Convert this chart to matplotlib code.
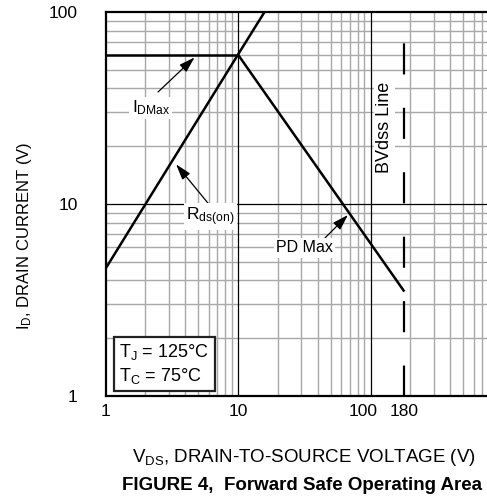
import numpy as np
import matplotlib
matplotlib.use('Agg')
import matplotlib.pyplot as plt
import matplotlib.transforms as mtransforms
from matplotlib.ticker import FixedLocator, NullFormatter

plt.rc('font', family='Liberation Sans', size=12)
plt.rcParams['mathtext.fontset'] = 'custom'
plt.rcParams['mathtext.rm'] = 'Liberation Sans'
plt.rcParams['mathtext.it'] = 'Liberation Sans:italic'

# limit lines
vds_idmax = [1, 10]
id_idmax = [60, 60]
vds_rds = [1, 10, 16]
id_rds = [4.6, 60, 101]
vds_pd = [10, 180]
id_pd = [60, 3.5]
bvdss = 180

xticks = [1, 10, 100, 180]
yticks = [1, 10, 100]

fig = plt.figure(figsize=(4.87, 4.96), dpi=100)
ax = fig.add_axes([105.5/487, 1-396/496, (503-105.5)/487, 384/496])
ax.set_xscale('log')
ax.set_yscale('log')
ax.set_xlim(1, 1000)
ax.set_ylim(1, 100)

# grid: grey minors, thin black majors
minors = [m*10**d for d in range(3) for m in range(2, 10)]
ax.xaxis.set_minor_locator(FixedLocator(minors))
ax.yaxis.set_minor_locator(FixedLocator(minors))
ax.xaxis.set_minor_formatter(NullFormatter())
ax.yaxis.set_minor_formatter(NullFormatter())
for m in minors:
    ax.axvline(m, color='#a8a8a8', lw=1.0, zorder=0)
    if m < 100: ax.axhline(m, color='#a8a8a8', lw=1.0, zorder=0)
for M in [10, 100]:
    ax.axvline(M, color='k', lw=0.9, zorder=0.5)
ax.axhline(10, color='k', lw=0.9, zorder=0.5)

ax.set_xticks(xticks)
ax.set_xticklabels([str(t) for t in xticks])
ax.set_yticks(yticks)
ax.set_yticklabels([str(t) for t in yticks])
ax.tick_params(which='both', length=0, labelsize=12.5)
ax.tick_params(axis='x', pad=6)
ax.tick_params(axis='y', pad=20)
for s in ['left', 'top', 'bottom']:
    ax.spines[s].set_linewidth(1.6)
ax.spines['right'].set_visible(False)
# the "100" label sits a little left of its line in the original
lab100 = ax.get_xticklabels()[2]
lab100.set_transform(lab100.get_transform() + mtransforms.ScaledTranslation(-5/72, 0, fig.dpi_scale_trans))

ax.plot(vds_idmax, id_idmax, color='k', lw=1.8, solid_capstyle='butt')
ax.plot(vds_rds, id_rds, color='k', lw=1.8)
ax.plot(vds_pd, id_pd, color='k', lw=1.8, solid_capstyle='butt')
ax.plot([bvdss, bvdss], [100, 1], color='k', lw=1.6, linestyle=(14.9, (14.0, 15.0)))

aprops = dict(arrowstyle='-|>,head_length=0.8,head_width=0.25', color='k', lw=0.9, shrinkA=0, shrinkB=0)
bb = dict(facecolor='white', edgecolor='none', pad=1.5)
ax.annotate('', xy=(4.7, 58), xytext=(2.49, 38.3), arrowprops=aprops)
ax.text(2.2, 31.6, r'$\mathregular{I_{DMax}}$', ha='center', va='center', fontsize=12.5, bbox=bb)
ax.annotate('', xy=(3.41, 16.1), xytext=(5.94, 10.1), arrowprops=aprops)
ax.text(6.2, 8.6, r'$\mathregular{R_{ds(on)}}$', ha='center', va='center', fontsize=12.5, bbox=bb)
ax.annotate('', xy=(67.6, 8.77), xytext=(45.3, 6.65), arrowprops=aprops)
ax.text(31.5, 5.9, 'PD Max', ha='center', va='center', fontsize=11.5, bbox=bb)
ax.text(128, 25.2, 'BVdss Line', rotation=90, ha='center', va='center', fontsize=13, bbox=bb)

ax.text(1.27, 1.47, '$\\mathregular{T_J}$ = 125°C\n$\\mathregular{T_C}$ = 75°C', ha='left', va='center',
        fontsize=13, linespacing=1.25,
        bbox=dict(facecolor='white', edgecolor='#222222', lw=1.6, boxstyle='square,pad=0.3'))

fig.text(25/487, 0.524, r'$\mathregular{I_D}$, DRAIN CURRENT (V)', rotation=90, ha='center', va='center', fontsize=12)
fig.text(304/487, 1-458/496, r'$\mathregular{V_{DS}}$, DRAIN-TO-SOURCE VOLTAGE (V)', ha='center', va='center', fontsize=13.5)
fig.text(302/487, 1-485/496, 'FIGURE 4,  Forward Safe Operating Area', ha='center', va='center',
         fontsize=13.5, fontweight='bold')

fig.savefig('out.png', dpi=100)
